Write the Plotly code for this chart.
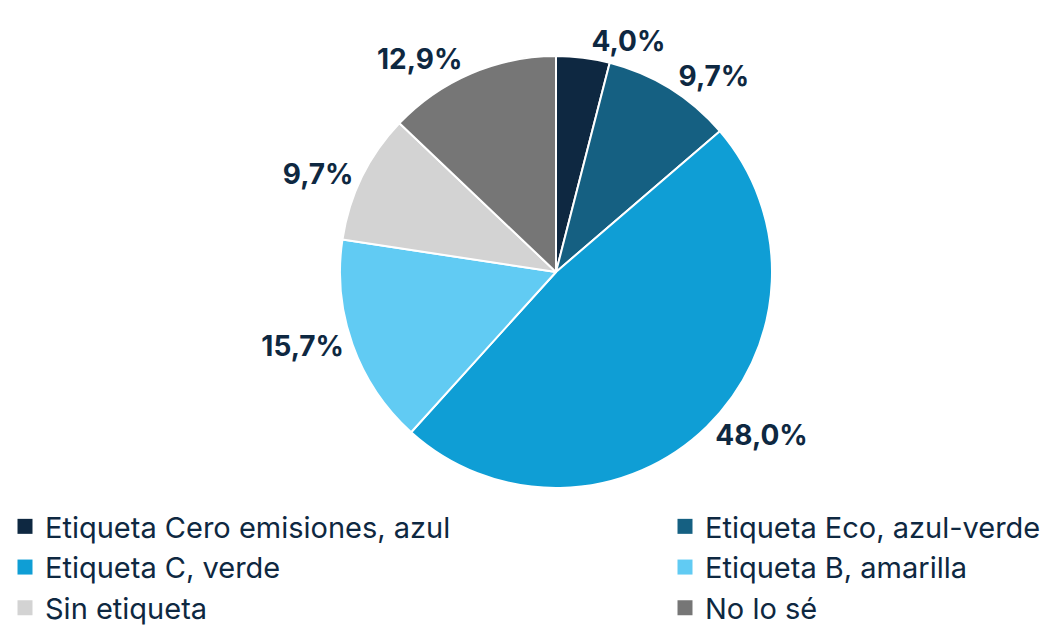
import plotly.graph_objects as go

categories = ["Etiqueta Cero emisiones, azul", "Etiqueta Eco, azul-verde",
              "Etiqueta C, verde", "Etiqueta B, amarilla", "Sin etiqueta", "No lo sé"]
values = [4.0, 9.7, 48.0, 15.7, 9.7, 12.9]
colors = ["#0E2841", "#156082", "#0F9ED5", "#61CBF3", "#D3D3D3", "#767676"]

W, H = 1046, 626
FONT = "Inter, Open Sans, sans-serif"
TEXT = "#0E2841"

fig = go.Figure(go.Pie(
    labels=categories, values=values, sort=False, direction="clockwise", rotation=0,
    marker=dict(colors=colors, line=dict(color="white", width=2)),
    texttemplate="%{value:.1f}%", textposition="outside",
    outsidetextfont=dict(family=FONT, size=28, color=TEXT, weight="bold"),
    domain=dict(x=[340 / W, 772 / W], y=[(H - 488) / H, (H - 56) / H]),
    hoverinfo="label+value", showlegend=False,
))

# legend entries in two columns (left: 1,3,5 ; right: 2,4,6)
for i, (name, col) in enumerate(zip(categories, colors)):
    fig.add_trace(go.Scatter(
        x=[None], y=[None], mode="markers", name=name,
        marker=dict(symbol="square", size=15, color=col),
        legend="legend" if i % 2 == 0 else "legend2", showlegend=True,
    ))

leg_common = dict(orientation="v", yanchor="top", xanchor="left",
                  font=dict(family=FONT, size=29, color=TEXT),
                  bgcolor="rgba(0,0,0,0)", itemwidth=30, tracegroupgap=0,
                  traceorder="normal")
fig.update_layout(
    width=W, height=H, separators=",.",
    margin=dict(l=0, r=0, t=0, b=0, autoexpand=False),
    paper_bgcolor="white", plot_bgcolor="white",
    font=dict(family=FONT, color=TEXT),
    xaxis=dict(visible=False), yaxis=dict(visible=False),
    legend=dict(x=5 / W, y=1 - 501 / H, **leg_common),
    legend2=dict(x=665 / W, y=1 - 501 / H, **leg_common),
)
fig.write_html("out.html", config={"displayModeBar": False},
               post_script="document.body.style.margin='0';document.body.style.overflow='hidden';")
